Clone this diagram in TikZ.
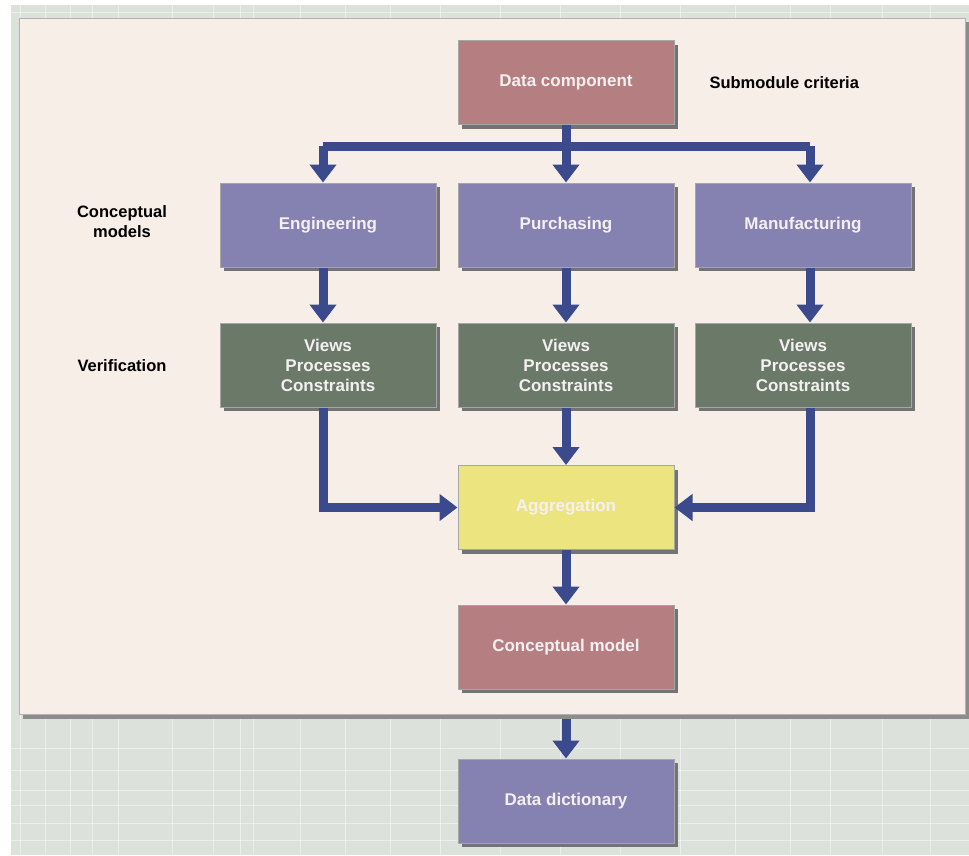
\documentclass[tikz,border=0pt]{standalone}
\usepackage{fontspec}
\setmainfont{Liberation Sans}
\usetikzlibrary{arrows.meta,positioning}
\definecolor{bggrid}{HTML}{DCE1DB}
\definecolor{panelfill}{HTML}{F6EEE7}
\definecolor{rosebox}{HTML}{B57F82}
\definecolor{purplebox}{HTML}{8581B0}
\definecolor{greenbox}{HTML}{6B7A68}
\definecolor{yellowbox}{HTML}{ECE57F}
\definecolor{arrowblue}{HTML}{3A4A8C}
\definecolor{boxtext}{HTML}{F4F0F2}
\tikzset{
  box/.style={rectangle, minimum width=216pt, minimum height=84pt, inner sep=2pt,
    draw=black!35, line width=1pt, text=boxtext, font=\bfseries\fontsize{17}{20}\selectfont,
    align=center},
  shadowed/.style={preaction={fill=black!55, transform canvas={xshift=4pt,yshift=-4pt}}},
  rosenode/.style={box, fill=rosebox, shadowed},
  purplenode/.style={box, fill=purplebox, shadowed},
  greennode/.style={box, fill=greenbox, shadowed},
  yellownode/.style={box, fill=yellowbox, shadowed},
  lbl/.style={font=\bfseries\fontsize{16.5}{20}\selectfont, text=black, align=center},
  conn/.style={draw=arrowblue, line width=9pt, line join=miter},
  arr/.style={conn, -{Triangle[width=26pt,length=18pt]}},
  gridline/.style={white, opacity=0.45, line width=1pt},
}
\begin{document}
\begin{tikzpicture}[x=1pt,y=-1pt]
\useasboundingbox (0,0) rectangle (969,855);
\fill[white] (0,0) rectangle (969,855);
% grid background
\fill[bggrid] (11,5) rectangle (969,855);
\foreach \x in {20,45,70,92,118,172,213,240,253,300,345,390,440,500,560,620,680,735,790,830,882,930}
  \draw[gridline] (\x,5) -- (\x,855);
\foreach \y in {12,748,770,790,805,823,840}
  \draw[gridline] (11,\y) -- (969,\y);
% panel
\fill[black!45] (23,22) rectangle (969,719);
\fill[panelfill, draw=black!30, line width=1pt] (19,18) rectangle (965,714);

% nodes
\node[rosenode] (dc) at (566,82.5) {Data component};
\node[lbl, anchor=west] (sub) at (706,83) {Submodule criteria};

\node[purplenode] (eng) at (328,225) {Engineering};
\node[purplenode] (pur) at (566,225) {Purchasing};
\node[purplenode] (man) at (803,225) {Manufacturing};
\node[lbl] (cm) at (122,222) {Conceptual\\models};

\node[greennode] (v1) at (328,365) {Views\\Processes\\Constraints};
\node[greennode] (v2) at (566,365) {Views\\Processes\\Constraints};
\node[greennode] (v3) at (803,365) {Views\\Processes\\Constraints};
\node[lbl] (ver) at (122,366) {Verification};

\node[yellownode] (agg) at (566,507.5) {Aggregation};
\node[rosenode] (cmod) at (566,647) {Conceptual model};
\node[purplenode] (dd) at (566,801) {Data dictionary};

% connectors
\coordinate (split) at (566,146);
\coordinate (eL) at (323,146);
\coordinate (eR) at (810,146);
\draw[conn] (dc.south) -- (split);
\draw[conn] (eL) -- (eR);
\draw[arr] (eL) -- (eL |- eng.north);
\draw[arr] (split) -- (pur.north);
\draw[arr] (eR) -- (eR |- man.north);

\draw[arr] (eL |- eng.south) -- (eL |- v1.north);
\draw[arr] (pur.south) -- (v2.north);
\draw[arr] (eR |- man.south) -- (eR |- v3.north);

\draw[arr] (eL |- v1.south) |- (agg.west);
\draw[arr] (v2.south) -- (agg.north);
\draw[arr] (eR |- v3.south) |- (agg.east);

\draw[arr] (agg.south) -- (cmod.north);
\coordinate (pout) at (566,719);
\draw[arr] (pout) -- (dd.north);
\end{tikzpicture}
\end{document}
